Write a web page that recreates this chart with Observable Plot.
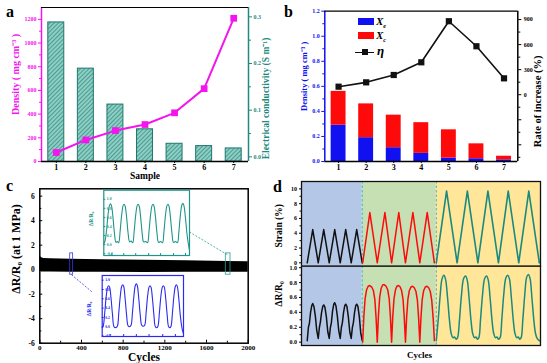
<!DOCTYPE html>
<html><head><meta charset="utf-8">
<script src="https://cdn.jsdelivr.net/npm/d3@7"></script>
<script src="https://cdn.jsdelivr.net/npm/@observablehq/plot@0.6"></script>
<style>
body{margin:0;background:#fff;}
#fig{position:relative;width:547px;height:363px;overflow:hidden;font-family:"Liberation Serif",serif;font-weight:bold;}
.pl{position:absolute;font:bold 16px/16px "Liberation Serif",serif;color:#000;}
.lg{position:absolute;}
.lt{position:absolute;font:italic bold 11px/12px "Liberation Serif",serif;color:#000;}
</style></head><body><div id="fig"></div>
<script>
// ---------------- Panel a data
const samples = [1, 2, 3, 4, 5, 6, 7];
const densityA = [76, 182, 261, 312, 411, 615, 1209];
const conductivityA = [0.288, 0.189, 0.112, 0.059, 0.028, 0.023, 0.018];
const densityTicksA = [0, 200, 400, 600, 800, 1000, 1200];
const densityMinorA = [100, 300, 500, 700, 900, 1100];
const condTicks = [0, 0.1, 0.2, 0.3];
const condMinor = [0.05, 0.15, 0.25];
// ---------------- Panel b data
const xeB = [0.29, 0.19, 0.11, 0.065, 0.027, 0.022, 0.013];
const xcB = [0.27, 0.27, 0.26, 0.245, 0.226, 0.119, 0.029];
const etaB = [96, 148, 236, 388, 880, 580, 196];
const densityTicksB = [0, 0.2, 0.4, 0.6, 0.8, 1.0, 1.2];
const densityMinorB = [0.1, 0.3, 0.5, 0.7, 0.9, 1.1];
const etaTicks = [-600, -300, 0, 300, 600, 900];
const etaMinor = [-750, -450, -150, 150, 450, 750];
// ---------------- Panel c data
const bandCycles = [0, 15, 40, 100, 300, 600, 1000, 1400, 1800, 2000];
const bandTop = [1.15, 0.98, 0.92, 0.9, 0.86, 0.82, 0.76, 0.72, 0.66, 0.64];
const bandBottom = [-0.12, -0.18, -0.18, -0.18, -0.2, -0.22, -0.24, -0.22, -0.22, -0.22];
const cycleTicks = [0, 400, 800, 1200, 1600, 2000];
const cycleMinor = [200, 600, 1000, 1400, 1800];
const resTicks = [-6, -4, -2, 0, 2, 4, 6];
const resMinor = [-5, -3, -1, 1, 3, 5];
const winX1 = [292, 1785], winX2 = [320, 1830], winY1 = [-0.41, -0.41], winY2 = [1.33, 1.33];
const winColor = ["#3535e8", "#2a9d90"];
const linkX1 = [304, 1798], linkY1 = [-0.41, 1.23], linkX2 = [503, 1436], linkY2 = [-1.83, 3.08];
const tealInset = [[0,0.02],[1.2,0.08],[2.7,0.3],[4.2,0.65],[5.7,0.86],[6.7,0.9],[7.7,0.86],[9.2,0.6],[10.7,0.25],[12.2,0.05],[13.5,0.07],[14.9,0.04],
 [16.4,0.3],[17.9,0.65],[19.4,0.86],[20.4,0.89],[21.4,0.85],[22.9,0.6],[24.4,0.25],[25.9,0.06],[27.4,0.08],[29.0,0.04],
 [30.5,0.3],[32.0,0.65],[33.5,0.86],[34.5,0.89],[35.5,0.85],[37.0,0.6],[38.5,0.25],[40.0,0.06],[42.0,0.07],[43.9,0.04],
 [45.4,0.3],[46.9,0.65],[48.4,0.86],[49.4,0.89],[50.4,0.85],[51.9,0.6],[53.4,0.25],[54.9,0.05],[57.0,0.07],[58.9,0.04],
 [60.4,0.3],[61.9,0.65],[63.4,0.86],[64.4,0.89],[65.4,0.85],[66.9,0.6],[68.4,0.25],[69.9,0.05],[72.0,0.07],[73.9,0.04],
 [75.4,0.3],[76.9,0.66],[78.4,0.88],[79.4,0.91],[80.4,0.86],[81.9,0.6],[83.4,0.25],[84.8,0.02],[86,-0.12]];
const blueInset = [[0,-0.02],[1.1,0.02],[2.6,0.3],[4.1,0.65],[5.6,0.85],[6.6,0.88],[7.6,0.85],[9.1,0.6],[10.6,0.25],[12.1,0.0],[13.8,-0.02],[15.5,0.01],
 [17.0,0.3],[18.5,0.65],[20.0,0.87],[21.0,0.9],[22.0,0.87],[23.5,0.6],[25.0,0.25],[26.5,0.02],[28.0,0.0],[29.5,0.03],
 [31.0,0.3],[32.5,0.66],[34.0,0.89],[35.0,0.92],[36.0,0.88],[37.5,0.6],[39.0,0.25],[40.5,0.03],[42.0,0.01],[43.5,0.03],
 [45.0,0.3],[46.5,0.65],[48.0,0.85],[49.0,0.88],[50.0,0.85],[51.5,0.6],[53.0,0.25],[54.5,0.0],[56.0,-0.02],[57.1,0.01],
 [58.6,0.3],[60.1,0.65],[61.6,0.85],[62.6,0.88],[63.6,0.85],[65.1,0.6],[66.6,0.25],[68.1,0.0],[69.5,-0.02],[70.5,0.01],
 [72.0,0.3],[73.5,0.66],[75.0,0.87],[76.0,0.9],[77.0,0.86],[78.5,0.6],[80.0,0.25],[81.5,0.0],[82.5,-0.1],[83.3,-0.15]];
const insetTicksY = [-0.2, 0, 0.2, 0.4, 0.6, 0.8, 1.0];
const tealInsetTicksX = [8, 20, 32, 45, 57, 70, 82];
const blueInsetTicksX = [8, 22, 35, 48, 62, 75];
// ---------------- Panel d data
const regionStart = [0, 25.4, 56.4], regionEnd = [25.4, 56.4, 100];
const regionColor = ["#b4c7e7", "#c6e0b4", "#ffe699"];
const boundariesD = [25.4, 56.4];
const blackStrainT = [2.4, 4.7, 7.0, 9.3, 11.6, 13.9, 16.2, 18.5, 20.8, 23.1, 25.4];
const blackStrainV = [0, 4.5, 0, 4.5, 0, 4.5, 0, 4.5, 0, 4.5, 0];
const redStrainT = [25.6, 28.6, 31.7, 34.9, 37.7, 40.7, 43.5, 46.6, 49.5, 52.6, 55.6];
const redStrainV = [0, 6.8, 0, 6.8, 0, 6.8, 0, 6.8, 0, 6.8, 0];
const tealStrainT = [56.4, 60.7, 65.1, 69.4, 73.8, 78.0, 82.4, 86.5, 90.9, 95.1, 99.5];
const tealStrainV = [0, 9.7, 0, 9.7, 0, 9.7, 0, 9.7, 0, 9.7, 0];
const blackResT = [2.4, 2.9, 3.3, 3.8, 4.3, 4.7, 5.2, 5.8, 6.4, 7.0, 7.5, 7.9, 8.4, 8.9, 9.3, 9.8, 10.4, 11.0, 11.6, 12.1, 12.5, 13.0, 13.5, 13.9, 14.4, 15.0, 15.6, 16.2, 16.7, 17.1, 17.6, 18.1, 18.5, 19.0, 19.6, 20.2, 20.8, 21.3, 21.7, 22.2, 22.7, 23.1, 23.6, 24.2, 24.8, 25.4];
const blackResV = [0.02, 0.2, 0.25, 0.4, 0.49, 0.52, 0.48, 0.35, 0.15, 0.05, 0.2, 0.27, 0.4, 0.48, 0.5, 0.47, 0.34, 0.14, 0.05, 0.2, 0.26, 0.42, 0.51, 0.53, 0.49, 0.35, 0.15, 0.05, 0.2, 0.26, 0.4, 0.49, 0.51, 0.48, 0.34, 0.14, 0.05, 0.2, 0.26, 0.4, 0.49, 0.51, 0.48, 0.34, 0.12, 0.02];
const redResT = [25.6, 26.1, 26.6, 27.2, 27.9, 28.6, 29.4, 30.1, 30.7, 31.2, 31.7, 32.2, 32.7, 33.3, 34.0, 34.7, 35.4, 36.1, 36.7, 37.2, 37.7, 38.2, 38.7, 39.3, 39.9, 40.6, 41.3, 41.9, 42.5, 43.0, 43.5, 44.0, 44.5, 45.1, 45.8, 46.5, 47.2, 47.9, 48.5, 49.0, 49.5, 50.0, 50.5, 51.1, 51.8, 52.5, 53.2, 53.9, 54.5, 55.1, 55.6];
const redResV = [0.0, 0.35, 0.58, 0.7, 0.75, 0.76, 0.74, 0.69, 0.57, 0.33, 0.0, 0.36, 0.6, 0.72, 0.77, 0.77, 0.75, 0.7, 0.58, 0.34, 0.0, 0.35, 0.58, 0.7, 0.75, 0.76, 0.74, 0.69, 0.57, 0.33, 0.0, 0.34, 0.57, 0.69, 0.74, 0.75, 0.73, 0.68, 0.56, 0.32, 0.0, 0.34, 0.57, 0.69, 0.74, 0.75, 0.73, 0.68, 0.56, 0.32, 0.02];
const tealResT = [56.4, 57.2, 58.0, 58.8, 59.6, 60.3, 61.1, 61.9, 62.6, 63.3, 64.0, 64.7, 65.3, 66.1, 66.9, 67.8, 68.6, 69.3, 70.1, 70.9, 71.6, 72.3, 73.0, 73.6, 74.2, 74.9, 75.7, 76.6, 77.4, 78.1, 78.9, 79.7, 80.4, 81.1, 81.8, 82.4, 83.1, 83.8, 84.6, 85.5, 86.3, 87.0, 87.8, 88.6, 89.3, 90.0, 90.7, 91.3, 91.9, 92.6, 93.4, 94.2, 94.9, 95.6, 96.4, 97.2, 97.9, 98.6, 99.5];
const tealResV = [0.02, 0.3, 0.62, 0.85, 0.9, 0.84, 0.6, 0.3, 0.12, 0.06, 0.07, 0.04, 0.06, 0.3, 0.62, 0.85, 0.89, 0.84, 0.6, 0.3, 0.12, 0.06, 0.07, 0.04, 0.06, 0.3, 0.62, 0.85, 0.89, 0.84, 0.6, 0.3, 0.12, 0.06, 0.07, 0.04, 0.06, 0.3, 0.63, 0.86, 0.9, 0.85, 0.6, 0.3, 0.12, 0.06, 0.07, 0.04, 0.06, 0.3, 0.63, 0.87, 0.91, 0.86, 0.6, 0.3, 0.12, 0.05, 0.02];
const strainTicks = [0, 2, 4, 6, 8, 10];
const strainMinor = [1, 3, 5, 7, 9];
const resTicksD = [0, 0.2, 0.4, 0.6, 0.8, 1.0];
const resMinorD = [0.1, 0.3, 0.5, 0.7, 0.9];

// ---------------- helpers
const FONT = "Liberation Serif";
const fig = document.getElementById("fig");
function place(el, left, top) {
  el.style.position = "absolute"; el.style.left = left + "px"; el.style.top = top + "px";
  el.style.background = "transparent"; el.style.overflow = "visible"; el.style.maxWidth = "none";
  el.setAttribute("font-family", FONT); el.setAttribute("font-weight", "bold");
  fig.appendChild(el); return el;
}
const zip = (xs, ys) => xs.map((x, i) => ({x, y: ys[i]}));
const blank = () => "";
const plain = d => String(d);
const fix1 = d => d.toFixed(1);
const T = {textAnchor: "middle", lineAnchor: "middle", fontWeight: "bold"};

const MAG = "#f414ee", TEALA = "#1f8b80", BLUE = "#1010f0", RED = "#ff0a0a";
const TEALI = "#1d958a", BLUEI = "#2a2af0", TEALD = "#1a8a80", CYAN = "#3cb4d0";

// ---------------- Panel a
const tableA = samples.map((s, i) => ({s, dens: densityA[i], cond: conductivityA[i]}));
const condBase = -0.01;
const a1 = Plot.plot({
  width: 273, height: 180, marginLeft: 41, marginRight: 25, marginTop: 7, marginBottom: 19,
  x: {domain: [0.5, 7.5], axis: null}, y: {domain: [condBase, 0.32], axis: null},
  marks: [
    Plot.rectY(tableA, {x1: d => d.s - 0.27, x2: d => d.s + 0.27, y1: () => condBase, y2: "cond", fill: "url(#hatchA)", stroke: "#1d776e", strokeWidth: 1}),
    Plot.axisY({anchor: "right", ticks: condTicks, tickFormat: fix1, tickSize: 3, tickPadding: 2, color: TEALA, fontSize: 6, label: null}),
    Plot.axisY({anchor: "right", ticks: condMinor, tickSize: 2, tickFormat: blank, color: TEALA, label: null}),
    Plot.ruleX([7.5], {stroke: TEALA, strokeWidth: 1.5}),
    Plot.text(["Electrical conductivity (S m⁻¹)"], {...T, frameAnchor: "right", dx: 17, dy: 14, rotate: -90, fill: TEALA, fontSize: 9.5})
  ]
});
const NS = "http://www.w3.org/2000/svg";
const defs = document.createElementNS(NS, "defs");
const pat = document.createElementNS(NS, "pattern");
pat.setAttribute("id", "hatchA"); pat.setAttribute("patternUnits", "userSpaceOnUse");
pat.setAttribute("width", "3"); pat.setAttribute("height", "3"); pat.setAttribute("patternTransform", "rotate(45)");
const pr = document.createElementNS(NS, "rect");
pr.setAttribute("width", "3"); pr.setAttribute("height", "3"); pr.setAttribute("fill", "#8ccfc4");
const pline = document.createElementNS(NS, "line");
pline.setAttribute("x1", "0"); pline.setAttribute("y1", "0"); pline.setAttribute("x2", "0"); pline.setAttribute("y2", "3");
pline.setAttribute("stroke", "#2e7e76"); pline.setAttribute("stroke-width", "1.3");
pat.appendChild(pr); pat.appendChild(pline); defs.appendChild(pat); a1.insertBefore(defs, a1.firstChild);
place(a1, 0, 0);

const a2 = Plot.plot({
  width: 273, height: 180, marginLeft: 41, marginRight: 25, marginTop: 7, marginBottom: 19,
  x: {domain: [0.5, 7.5], axis: null}, y: {domain: [0, 1300], axis: null},
  marks: [
    Plot.line(tableA, {x: "s", y: "dens", stroke: MAG, strokeWidth: 2}),
    Plot.dot(tableA, {x: "s", y: "dens", symbol: "square", fill: MAG, r: 3.8}),
    Plot.axisY({anchor: "left", ticks: densityTicksA, tickFormat: plain, tickSize: 3, tickPadding: 2, color: MAG, fontSize: 6, label: null}),
    Plot.axisY({anchor: "left", ticks: densityMinorA, tickSize: 2, tickFormat: blank, color: MAG, label: null}),
    Plot.ruleX([0.5], {stroke: MAG, strokeWidth: 1.5}),
    Plot.ruleY([0], {stroke: "#000", strokeWidth: 1.5}),
    Plot.ruleY([1300], {stroke: "#000", strokeWidth: 1.2}),
    Plot.axisX({anchor: "bottom", ticks: samples, tickFormat: plain, tickSize: 2, tickPadding: 0.5, fontSize: 8, label: null}),
    Plot.text(["Sample"], {...T, frameAnchor: "bottom", dy: 14.5, fontSize: 9.5}),
    Plot.text(["Density ( mg cm⁻³ )"], {...T, frameAnchor: "left", dx: -26, dy: -10, rotate: -90, fill: MAG, fontSize: 10})
  ]
});
place(a2, 0, 0);

// ---------------- Panel b
const tableB = samples.map((s, i) => ({s, xe: xeB[i], tot: xeB[i] + xcB[i], eta: etaB[i]}));
const b1 = Plot.plot({
  width: 274, height: 180, marginLeft: 51.3, marginRight: 29.7, marginTop: 10.7, marginBottom: 19,
  x: {domain: [0.5, 7.5], axis: null}, y: {domain: [0, 1.2], axis: null},
  marks: [
    Plot.rectY(tableB, {x1: d => d.s - 0.27, x2: d => d.s + 0.27, y1: () => 0, y2: "xe", fill: BLUE}),
    Plot.rectY(tableB, {x1: d => d.s - 0.27, x2: d => d.s + 0.27, y1: "xe", y2: "tot", fill: RED}),
    Plot.axisY({anchor: "left", ticks: densityTicksB, tickFormat: fix1, tickSize: 3, tickPadding: 2, color: BLUE, fontSize: 6, label: null}),
    Plot.axisY({anchor: "left", ticks: densityMinorB, tickSize: 2, tickFormat: blank, color: BLUE, label: null}),
    Plot.ruleX([0.5], {stroke: BLUE, strokeWidth: 1.5}),
    Plot.ruleY([0], {stroke: "#000", strokeWidth: 1.5}),
    Plot.ruleY([1.2], {stroke: "#000", strokeWidth: 1.2}),
    Plot.axisX({anchor: "bottom", ticks: samples, tickFormat: plain, tickSize: 2, tickPadding: 0.5, fontSize: 8, label: null}),
    Plot.text(["Density ( mg cm⁻³ )"], {...T, frameAnchor: "left", dx: -21, dy: -10, rotate: -90, fill: BLUE, fontSize: 8.5})
  ]
});
place(b1, 273, 0);
const b2 = Plot.plot({
  width: 274, height: 180, marginLeft: 51.3, marginRight: 29.7, marginTop: 10.7, marginBottom: 19,
  x: {domain: [0.5, 7.5], axis: null}, y: {domain: [-800, 1000], axis: null},
  marks: [
    Plot.line(tableB, {x: "s", y: "eta", stroke: "#111", strokeWidth: 1.6}),
    Plot.dot(tableB, {x: "s", y: "eta", symbol: "square", fill: "#111", r: 3.5}),
    Plot.axisY({anchor: "right", ticks: etaTicks, tickFormat: d => d >= 0 ? String(d) : "", tickSize: 3, tickPadding: 3, fontSize: 6, label: null}),
    Plot.axisY({anchor: "right", ticks: etaMinor, tickSize: 2, tickFormat: blank, label: null}),
    Plot.ruleX([7.5], {stroke: "#000", strokeWidth: 1.5}),
    Plot.text(["Rate of increase (%)"], {...T, frameAnchor: "right", dx: 19.5, dy: 15, rotate: -90, fontSize: 10.5})
  ]
});
place(b2, 273, 0);

// ---------------- Panel c
const bandTbl = bandCycles.map((x, i) => ({x, hi: bandTop[i], lo: bandBottom[i]}));
const winTbl = winX1.map((x1, i) => ({x1, x2: winX2[i], y1: winY1[i], y2: winY2[i], c: winColor[i]}));
const linkTbl = linkX1.map((x1, i) => ({x1, y1: linkY1[i], x2: linkX2[i], y2: linkY2[i], c: winColor[i]}));
const c1 = Plot.plot({
  width: 273, height: 183, marginLeft: 39.3, marginRight: 25.3, marginTop: 8.3, marginBottom: 20.3,
  x: {domain: [0, 2000], axis: null}, y: {domain: [-6, 6.6], axis: null}, color: {type: "identity"},
  marks: [
    Plot.areaY(bandTbl, {x: "x", y1: "lo", y2: "hi", fill: "#000"}),
    Plot.rect(winTbl, {x1: "x1", x2: "x2", y1: "y1", y2: "y2", stroke: "c", fill: "none", strokeWidth: 0.8}),
    Plot.link(linkTbl, {x1: "x1", y1: "y1", x2: "x2", y2: "y2", stroke: "c", strokeDasharray: "2,1.5", strokeWidth: 0.8}),
    Plot.axisX({anchor: "bottom", ticks: cycleTicks, tickFormat: plain, tickSize: -3, tickPadding: 4.5, fontSize: 7, label: null}),
    Plot.axisX({anchor: "bottom", ticks: cycleMinor, tickSize: -2, tickFormat: blank, label: null}),
    Plot.axisY({anchor: "left", ticks: resTicks, tickFormat: plain, tickSize: -3, tickPadding: 8, fontSize: 7.5, label: null}),
    Plot.axisY({anchor: "left", ticks: resMinor, tickSize: -2, tickFormat: blank, label: null}),
    Plot.frame({stroke: "#000", strokeWidth: 1.5}),
    Plot.text(["Cycles"], {...T, frameAnchor: "bottom", dy: 14, fontSize: 11.5}),
    Plot.text(["ΔR/R₀ (at 1 MPa)"], {...T, frameAnchor: "left", dx: -24, dy: -17, rotate: -90, fontSize: 12})
  ]
});
place(c1, 0, 180);

function inset(data, ticksX, color, xmax, ydom, w, h, ml, mt, labelDy) {
  return Plot.plot({
    width: w, height: h, marginLeft: ml, marginRight: 3, marginTop: mt, marginBottom: 3,
    x: {domain: [0, xmax], axis: null}, y: {domain: ydom, axis: null},
    marks: [
      Plot.frame({fill: "white", stroke: null}),
      Plot.line(data.map(([x, y]) => ({x, y})), {x: "x", y: "y", stroke: color, strokeWidth: 1.1, curve: "catmull-rom"}),
      Plot.axisX({anchor: "bottom", ticks: ticksX, tickSize: -2, tickFormat: blank, color, label: null}),
      Plot.axisY({anchor: "left", ticks: insetTicksY, tickSize: -2, tickFormat: blank, color, label: null}),
      Plot.text(insetTicksY, {frameAnchor: "left", y: d => d, text: fix1, dx: 3, textAnchor: "start", lineAnchor: "middle", fill: color, fontSize: 3.8}),
      Plot.frame({stroke: color, strokeWidth: 1.2}),
      Plot.text(["ΔR/R₀"], {...T, frameAnchor: "left", dx: -12.5, dy: labelDy, rotate: -90, fill: color, fontSize: 5.5})
    ]
  });
}
place(inset(tealInset, tealInsetTicksX, TEALI, 86, [-0.24, 1.2], 112, 73, 23.3, 4.7, -4), 80, 185);
place(inset(blueInset, blueInsetTicksX, BLUEI, 83.3, [-0.21, 1.1], 108, 68, 23.7, 4, 3), 78, 271);

// ---------------- Panel d
const regionsD = regionStart.map((s, i) => ({s, e: regionEnd[i], c: regionColor[i]}));
const d1 = Plot.plot({
  width: 274, height: 88, marginLeft: 28, marginRight: 7, marginTop: 3, marginBottom: 0.3,
  x: {domain: [0, 100], axis: null}, y: {domain: [-0.46, 11], axis: null}, color: {type: "identity"},
  marks: [
    Plot.rect(regionsD, {x1: "s", x2: "e", fill: "c"}),
    Plot.ruleX(boundariesD, {stroke: CYAN, strokeDasharray: "2.5,2", strokeWidth: 1}),
    Plot.line(zip(blackStrainT, blackStrainV), {x: "x", y: "y", stroke: "#111", strokeWidth: 1.5}),
    Plot.line(zip(redStrainT, redStrainV), {x: "x", y: "y", stroke: RED, strokeWidth: 1.5}),
    Plot.line(zip(tealStrainT, tealStrainV), {x: "x", y: "y", stroke: TEALD, strokeWidth: 1.6}),
    Plot.axisY({anchor: "left", ticks: strainTicks, tickFormat: plain, tickSize: 2, tickPadding: 2.5, fontSize: 6, label: null}),
    Plot.axisY({anchor: "left", ticks: strainMinor, tickSize: 1.5, tickFormat: blank, label: null}),
    Plot.frame({stroke: "#111", strokeWidth: 1.3}),
    Plot.text(["Strain (%)"], {...T, frameAnchor: "left", dx: -23, dy: 2, rotate: -90, fontSize: 9.5})
  ]
});
place(d1, 273, 178);
const d2 = Plot.plot({
  width: 274, height: 98, marginLeft: 28, marginRight: 7, marginTop: 0.7, marginBottom: 18,
  x: {domain: [0, 100], axis: null}, y: {domain: [-0.045, 1.02], axis: null}, color: {type: "identity"},
  marks: [
    Plot.rect(regionsD, {x1: "s", x2: "e", fill: "c"}),
    Plot.ruleX(boundariesD, {stroke: CYAN, strokeDasharray: "2.5,2", strokeWidth: 1}),
    Plot.line(zip(blackResT, blackResV), {x: "x", y: "y", stroke: "#111", strokeWidth: 1.5}),
    Plot.line(zip(redResT, redResV), {x: "x", y: "y", stroke: RED, strokeWidth: 1.5}),
    Plot.line(zip(tealResT, tealResV), {x: "x", y: "y", stroke: TEALD, strokeWidth: 1.5, curve: "catmull-rom"}),
    Plot.axisY({anchor: "left", ticks: resTicksD, tickFormat: fix1, tickSize: 2, tickPadding: 2.5, fontSize: 6, label: null}),
    Plot.axisY({anchor: "left", ticks: resMinorD, tickSize: 1.5, tickFormat: blank, label: null}),
    Plot.frame({stroke: "#111", strokeWidth: 1.3}),
    Plot.text(["ΔR/R₀"], {...T, frameAnchor: "left", dx: -23, dy: -12, rotate: -90, fontSize: 9.5}),
    Plot.text(["Cycles"], {...T, frameAnchor: "bottom", dx: -1.5, dy: 10, fontSize: 9})
  ]
});
place(d2, 273, 265);

// ---------------- panel letters and legend (HTML text)
function addDiv(cls, left, top, html, extra) {
  const d = document.createElement("div"); d.className = cls;
  d.style.left = left + "px"; d.style.top = top + "px"; d.innerHTML = html;
  if (extra) Object.assign(d.style, extra);
  fig.appendChild(d); return d;
}
addDiv("pl", 6, 4, "a"); addDiv("pl", 284, 4, "b"); addDiv("pl", 6, 178, "c"); addDiv("pl", 273, 179, "d");
addDiv("lg", 358, 18, "", {width: "16px", height: "7px", background: BLUE});
addDiv("lt", 376, 15, "X<sub style='font-size:6px'>e</sub>");
addDiv("lg", 358, 32, "", {width: "16px", height: "7px", background: RED});
addDiv("lt", 376, 29, "X<sub style='font-size:6px'>c</sub>");
addDiv("lg", 355, 51.5, "", {width: "19px", height: "1.6px", background: "#111"});
addDiv("lg", 362, 49.3, "", {width: "6px", height: "6px", background: "#111"});
addDiv("lt", 377, 45, "η", {fontSize: "13px"});
</script></body></html>
